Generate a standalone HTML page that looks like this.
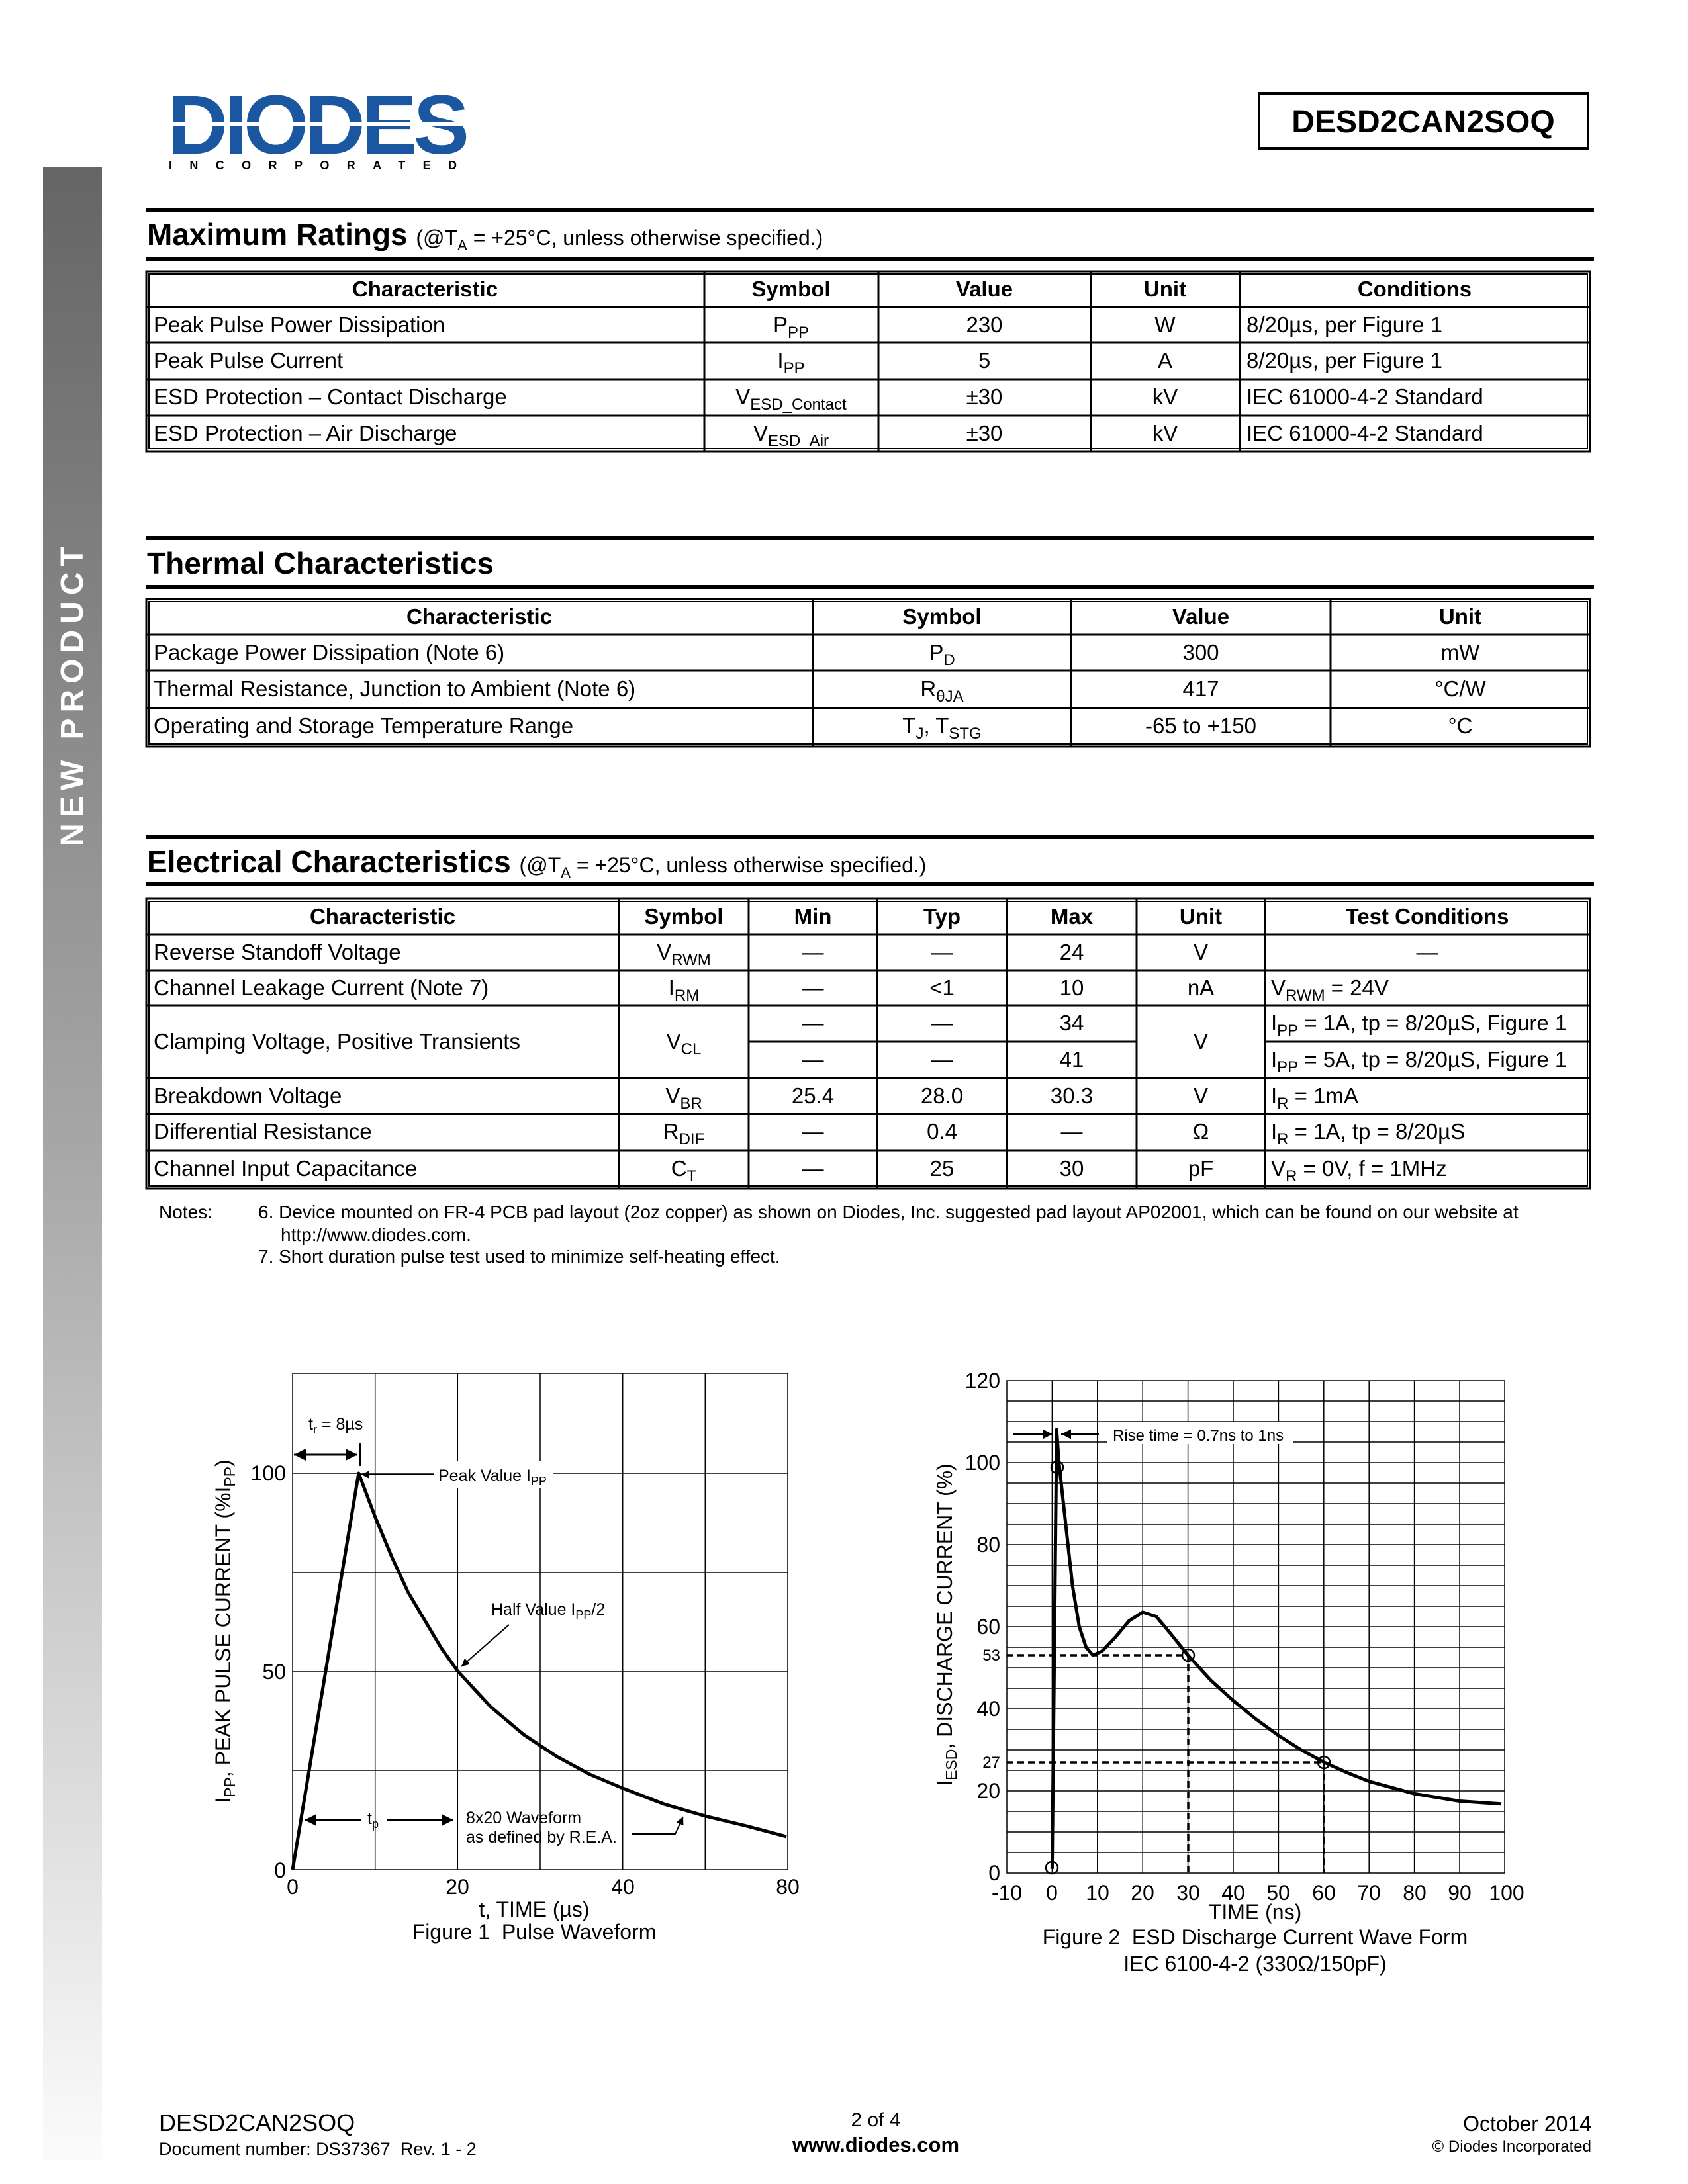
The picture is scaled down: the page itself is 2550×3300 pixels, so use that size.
<!DOCTYPE html>
<html><head><meta charset="utf-8"><style>
html,body{margin:0;padding:0;background:#fff}
svg{display:block}
text{font-family:"Liberation Sans",Arial,sans-serif;fill:#000}
</style></head><body>
<svg width="2550" height="3300" viewBox="0 0 2550 3300" xmlns="http://www.w3.org/2000/svg">
<defs>
<linearGradient id="sb" x1="0" y1="0" x2="0" y2="1">
<stop offset="0" stop-color="#656565"/><stop offset="0.5" stop-color="#a8a8a8"/><stop offset="1" stop-color="#fbfbfb"/>
</linearGradient>
<marker id="ah" viewBox="0 0 10 10" refX="10" refY="5" markerWidth="6" markerHeight="6" orient="auto-start-reverse"><path d="M0,0 L10,5 L0,10 z" fill="#000"/></marker>
</defs>
<!-- sidebar -->
<rect x="65" y="253" width="89" height="3010" fill="url(#sb)"/>
<text transform="translate(125,1048) rotate(-90)" text-anchor="middle" font-size="48" font-weight="bold" letter-spacing="9" style="fill:#fff">NEW PRODUCT</text>
<!-- logo -->
<text x="253" y="232" font-size="126" font-weight="bold" textLength="450" lengthAdjust="spacingAndGlyphs" style="fill:#1b57a0" letter-spacing="-6">DIODES</text>
<rect x="253" y="185" width="455" height="6" fill="#fff"/>
<text x="255" y="256" font-size="18" font-weight="bold" textLength="435" lengthAdjust="spacing">INCORPORATED</text>
<!-- part box -->
<rect x="1902" y="141" width="497" height="83" fill="none" stroke="#000" stroke-width="4"/>
<text x="2150" y="200" text-anchor="middle" font-size="48" font-weight="bold">DESD2CAN2SOQ</text>

<!-- Maximum Ratings -->
<rect x="221" y="315" width="2187" height="6" fill="#000"/>
<text x="222" y="370" font-size="46" font-weight="bold">Maximum Ratings <tspan font-size="32" font-weight="normal">(@T<tspan font-size="22" dy="8">A</tspan><tspan dy="-8"> = +25°C, unless otherwise specified.)</tspan></tspan></text>
<rect x="221" y="388" width="2187" height="6" fill="#000"/>
<g stroke="#000" fill="none">
<rect x="221" y="410" width="2181" height="272" stroke-width="3"/>
<rect x="225" y="414" width="2173" height="264" stroke-width="2"/>
<g stroke-width="3">
<line x1="221" y1="464" x2="2402" y2="464"/><line x1="221" y1="518" x2="2402" y2="518"/><line x1="221" y1="573" x2="2402" y2="573"/><line x1="221" y1="628" x2="2402" y2="628"/>
<line x1="1064" y1="410" x2="1064" y2="682"/><line x1="1327" y1="410" x2="1327" y2="682"/><line x1="1648" y1="410" x2="1648" y2="682"/><line x1="1873" y1="410" x2="1873" y2="682"/>
</g></g>
<g font-size="33">
<g font-weight="bold" text-anchor="middle"><text x="642" y="448">Characteristic</text><text x="1195" y="448">Symbol</text><text x="1487" y="448">Value</text><text x="1760" y="448">Unit</text><text x="2137" y="448">Conditions</text></g>
<text x="232" y="502">Peak Pulse Power Dissipation</text><text x="232" y="556">Peak Pulse Current</text><text x="232" y="611">ESD Protection – Contact Discharge</text><text x="232" y="666">ESD Protection – Air Discharge</text>
<g text-anchor="middle">
<text x="1195" y="502">P<tspan font-size="24" dy="8">PP</tspan></text><text x="1195" y="556">I<tspan font-size="24" dy="8">PP</tspan></text><text x="1195" y="611">V<tspan font-size="24" dy="8">ESD_Contact</tspan></text><text x="1195" y="666">V<tspan font-size="24" dy="8">ESD_Air</tspan></text>
<text x="1487" y="502">230</text><text x="1487" y="556">5</text><text x="1487" y="611">±30</text><text x="1487" y="666">±30</text>
<text x="1760" y="502">W</text><text x="1760" y="556">A</text><text x="1760" y="611">kV</text><text x="1760" y="666">kV</text>
</g>
<text x="1883" y="502">8/20µs, per Figure 1</text><text x="1883" y="556">8/20µs, per Figure 1</text><text x="1883" y="611">IEC 61000-4-2 Standard</text><text x="1883" y="666">IEC 61000-4-2 Standard</text>
</g>

<!-- Thermal -->
<rect x="221" y="810" width="2187" height="6" fill="#000"/>
<text x="222" y="867" font-size="46" font-weight="bold">Thermal Characteristics</text>
<rect x="221" y="884" width="2187" height="6" fill="#000"/>
<g stroke="#000" fill="none">
<rect x="221" y="905" width="2181" height="223" stroke-width="3"/>
<rect x="225" y="909" width="2173" height="215" stroke-width="2"/>
<g stroke-width="3">
<line x1="221" y1="959" x2="2402" y2="959"/><line x1="221" y1="1013" x2="2402" y2="1013"/><line x1="221" y1="1070" x2="2402" y2="1070"/>
<line x1="1228" y1="905" x2="1228" y2="1128"/><line x1="1618" y1="905" x2="1618" y2="1128"/><line x1="2010" y1="905" x2="2010" y2="1128"/>
</g></g>
<g font-size="33">
<g font-weight="bold" text-anchor="middle"><text x="724" y="943">Characteristic</text><text x="1423" y="943">Symbol</text><text x="1814" y="943">Value</text><text x="2206" y="943">Unit</text></g>
<text x="232" y="997">Package Power Dissipation (Note 6)</text><text x="232" y="1052">Thermal Resistance, Junction to Ambient (Note 6)</text><text x="232" y="1108">Operating and Storage Temperature Range</text>
<g text-anchor="middle">
<text x="1423" y="997">P<tspan font-size="24" dy="8">D</tspan></text><text x="1423" y="1052">R<tspan font-size="24" dy="8">θJA</tspan></text><text x="1423" y="1108">T<tspan font-size="24" dy="8">J</tspan><tspan dy="-8">, T</tspan><tspan font-size="24" dy="8">STG</tspan></text>
<text x="1814" y="997">300</text><text x="1814" y="1052">417</text><text x="1814" y="1108">-65 to +150</text>
<text x="2206" y="997">mW</text><text x="2206" y="1052">°C/W</text><text x="2206" y="1108">°C</text>
</g></g>

<!-- Electrical -->
<rect x="221" y="1261" width="2187" height="6" fill="#000"/>
<text x="222" y="1318" font-size="46" font-weight="bold">Electrical Characteristics <tspan font-size="32" font-weight="normal">(@T<tspan font-size="22" dy="8">A</tspan><tspan dy="-8"> = +25°C, unless otherwise specified.)</tspan></tspan></text>
<rect x="221" y="1333" width="2187" height="6" fill="#000"/>
<g stroke="#000" fill="none">
<rect x="221" y="1358" width="2181" height="438" stroke-width="3"/>
<rect x="225" y="1362" width="2173" height="430" stroke-width="2"/>
<g stroke-width="3">
<line x1="221" y1="1412" x2="2402" y2="1412"/><line x1="221" y1="1466" x2="2402" y2="1466"/><line x1="221" y1="1519" x2="2402" y2="1519"/>
<line x1="1131" y1="1574" x2="1717" y2="1574"/><line x1="1911" y1="1574" x2="2402" y2="1574"/>
<line x1="221" y1="1629" x2="2402" y2="1629"/><line x1="221" y1="1683" x2="2402" y2="1683"/><line x1="221" y1="1738" x2="2402" y2="1738"/>
<line x1="935" y1="1358" x2="935" y2="1796"/><line x1="1131" y1="1358" x2="1131" y2="1796"/><line x1="1325" y1="1358" x2="1325" y2="1796"/><line x1="1521" y1="1358" x2="1521" y2="1796"/><line x1="1717" y1="1358" x2="1717" y2="1796"/><line x1="1911" y1="1358" x2="1911" y2="1796"/>
</g></g>
<g font-size="33">
<g font-weight="bold" text-anchor="middle"><text x="578" y="1396">Characteristic</text><text x="1033" y="1396">Symbol</text><text x="1228" y="1396">Min</text><text x="1423" y="1396">Typ</text><text x="1619" y="1396">Max</text><text x="1814" y="1396">Unit</text><text x="2156" y="1396">Test Conditions</text></g>
<text x="232" y="1450">Reverse Standoff Voltage</text><text x="232" y="1504">Channel Leakage Current (Note 7)</text><text x="232" y="1585">Clamping Voltage, Positive Transients</text><text x="232" y="1667">Breakdown Voltage</text><text x="232" y="1721">Differential Resistance</text><text x="232" y="1777">Channel Input Capacitance</text>
<g text-anchor="middle">
<text x="1033" y="1450">V<tspan font-size="24" dy="8">RWM</tspan></text><text x="1033" y="1504">I<tspan font-size="24" dy="8">RM</tspan></text><text x="1033" y="1585">V<tspan font-size="24" dy="8">CL</tspan></text><text x="1033" y="1667">V<tspan font-size="24" dy="8">BR</tspan></text><text x="1033" y="1721">R<tspan font-size="24" dy="8">DIF</tspan></text><text x="1033" y="1777">C<tspan font-size="24" dy="8">T</tspan></text>
<text x="1228" y="1450">—</text><text x="1228" y="1504">—</text><text x="1228" y="1557">—</text><text x="1228" y="1612">—</text><text x="1228" y="1667">25.4</text><text x="1228" y="1721">—</text><text x="1228" y="1777">—</text>
<text x="1423" y="1450">—</text><text x="1423" y="1504">&lt;1</text><text x="1423" y="1557">—</text><text x="1423" y="1612">—</text><text x="1423" y="1667">28.0</text><text x="1423" y="1721">0.4</text><text x="1423" y="1777">25</text>
<text x="1619" y="1450">24</text><text x="1619" y="1504">10</text><text x="1619" y="1557">34</text><text x="1619" y="1612">41</text><text x="1619" y="1667">30.3</text><text x="1619" y="1721">—</text><text x="1619" y="1777">30</text>
<text x="1814" y="1450">V</text><text x="1814" y="1504">nA</text><text x="1814" y="1585">V</text><text x="1814" y="1667">V</text><text x="1814" y="1721">Ω</text><text x="1814" y="1777">pF</text>
<text x="2156" y="1450">—</text>
</g>
<text x="1920" y="1504">V<tspan font-size="24" dy="8">RWM</tspan><tspan dy="-8"> = 24V</tspan></text>
<text x="1920" y="1557">I<tspan font-size="24" dy="8">PP</tspan><tspan dy="-8"> = 1A, tp = 8/20µS, Figure 1</tspan></text>
<text x="1920" y="1612">I<tspan font-size="24" dy="8">PP</tspan><tspan dy="-8"> = 5A, tp = 8/20µS, Figure 1</tspan></text>
<text x="1920" y="1667">I<tspan font-size="24" dy="8">R</tspan><tspan dy="-8"> = 1mA</tspan></text>
<text x="1920" y="1721">I<tspan font-size="24" dy="8">R</tspan><tspan dy="-8"> = 1A, tp = 8/20µS</tspan></text>
<text x="1920" y="1777">V<tspan font-size="24" dy="8">R</tspan><tspan dy="-8"> = 0V, f = 1MHz</tspan></text>
</g>
<g font-size="28">
<text x="240" y="1841">Notes:</text>
<text x="390" y="1841">6. Device mounted on FR-4 PCB pad layout (2oz copper) as shown on Diodes, Inc. suggested pad layout AP02001, which can be found on our website at</text>
<text x="424" y="1875">http://www.diodes.com.</text>
<text x="390" y="1908">7. Short duration pulse test used to minimize self-heating effect.</text>
</g>

<!-- Figure 1 -->
<g stroke="#000" stroke-width="1.5" fill="none">
<rect x="442" y="2075" width="748" height="750"/>
<line x1="566.7" y1="2075" x2="566.7" y2="2825"/><line x1="691.3" y1="2075" x2="691.3" y2="2825"/><line x1="816" y1="2075" x2="816" y2="2825"/><line x1="940.7" y1="2075" x2="940.7" y2="2825"/><line x1="1065.3" y1="2075" x2="1065.3" y2="2825"/>
<line x1="442" y1="2226" x2="1190" y2="2226"/><line x1="442" y1="2376" x2="1190" y2="2376"/><line x1="442" y1="2526" x2="1190" y2="2526"/><line x1="442" y1="2675" x2="1190" y2="2675"/>
</g>
<polyline fill="none" stroke="#000" stroke-width="5" stroke-linejoin="round" points="442,2825 541.8,2226 566.7,2292 591.6,2352 616.6,2406 641.5,2448 666.5,2490 691.4,2525 741.3,2579 791.2,2621 841,2654 890.9,2681 940.8,2702 1003.2,2726 1065.5,2744 1127.9,2759 1188,2775"/>
<g stroke="#000" stroke-width="3" fill="none">
<line x1="444" y1="2198" x2="540" y2="2198" marker-start="url(#ah)" marker-end="url(#ah)"/>
<line x1="544" y1="2180" x2="544" y2="2215" stroke-width="2"/>
<line x1="660" y1="2228" x2="546" y2="2228" marker-end="url(#ah)" stroke-width="2"/>
<line x1="769" y1="2455" x2="697" y2="2518" marker-end="url(#ah)" stroke-width="2"/>
<line x1="545" y1="2750" x2="460" y2="2750" marker-end="url(#ah)"/>
<line x1="585" y1="2750" x2="685" y2="2750" marker-end="url(#ah)"/>
<polyline points="955,2771 1020,2771 1032,2745" stroke-width="2" marker-end="url(#ah)"/>
</g>
<g font-size="25">
<text x="466" y="2160">t<tspan font-size="18" dy="6">r</tspan><tspan dy="-6"> = 8µs</tspan></text>
<rect x="655" y="2208" width="180" height="40" fill="#fff"/>
<text x="662" y="2238">Peak Value I<tspan font-size="18" dy="6">PP</tspan></text>
<text x="742" y="2440">Half Value I<tspan font-size="18" dy="6">PP</tspan><tspan dy="-6">/2</tspan></text>
<text x="555" y="2756">t<tspan font-size="18" dy="6">p</tspan></text>
<text x="704" y="2755">8x20 Waveform</text><text x="704" y="2784">as defined by R.E.A.</text>
</g>
<g font-size="32">
<g text-anchor="end"><text x="432" y="2237">100</text><text x="432" y="2537">50</text><text x="432" y="2837">0</text></g>
<g text-anchor="middle"><text x="442" y="2862">0</text><text x="691" y="2862">20</text><text x="941" y="2862">40</text><text x="1190" y="2862">80</text>
<text x="807" y="2896">t, TIME (µs)</text><text x="807" y="2930">Figure 1&#160; Pulse Waveform</text></g>
<text transform="translate(348,2465) rotate(-90)" text-anchor="middle">I<tspan font-size="23" dy="7">PP</tspan><tspan dy="-7">, PEAK PULSE CURRENT (%I</tspan><tspan font-size="23" dy="7">PP</tspan><tspan dy="-7">)</tspan></text>
</g>

<!-- Figure 2 -->
<g stroke="#000" stroke-width="1.5" fill="none">
<path d="M1589.4 2086V2830M1657.8 2086V2830M1726.2 2086V2830M1794.6 2086V2830M1863 2086V2830M1931.4 2086V2830M1999.8 2086V2830M2068.2 2086V2830M2136.6 2086V2830M2205 2086V2830"/>
<path d="M1521 2799H2273M1521 2768H2273M1521 2737H2273M1521 2706H2273M1521 2675H2273M1521 2644H2273M1521 2613H2273M1521 2582H2273M1521 2551H2273M1521 2520H2273M1521 2489H2273M1521 2458H2273M1521 2427H2273M1521 2396H2273M1521 2365H2273M1521 2334H2273M1521 2303H2273M1521 2272H2273M1521 2241H2273M1521 2210H2273M1521 2179H2273M1521 2148H2273M1521 2117H2273"/>
<rect x="1521" y="2086" width="752" height="744"/>
</g>
<rect x="1672" y="2148" width="282" height="34" fill="#fff"/>
<g stroke="#000" stroke-width="3.5" stroke-dasharray="10,6" fill="none">
<path d="M1521 2501H1795V2830M1521 2663H2000V2830"/>
</g>
<polyline fill="none" stroke="#000" stroke-width="5" stroke-linejoin="round" points="1589.4,2823.8 1596.2,2160 1599.7,2210 1609.9,2303 1620.2,2396 1630.4,2458 1640.7,2489 1651,2501 1664.6,2495 1685.2,2473.5 1705.7,2449 1726.2,2436 1746.7,2442.5 1767.2,2467 1794.6,2501 1828.8,2538.6 1863,2569.6 1897.2,2597.5 1931.4,2622.3 1965.6,2644 1999.8,2662.6 2034,2678 2068.2,2691.7 2136.6,2710.3 2205,2721.5 2268,2725.8"/>
<g fill="none" stroke="#000" stroke-width="2.5">
<circle cx="1589" cy="2822" r="9"/><circle cx="1597" cy="2217" r="9"/><circle cx="1795" cy="2501" r="9"/><circle cx="2000" cy="2663" r="9"/>
<line x1="1530" y1="2167" x2="1590" y2="2167" marker-end="url(#ah)"/>
<line x1="1660" y1="2167" x2="1603" y2="2167" marker-end="url(#ah)"/>
</g>
<text x="1681" y="2177" font-size="24">Rise time = 0.7ns to 1ns</text>
<g font-size="32">
<g text-anchor="end"><text x="1511" y="2097">120</text><text x="1511" y="2221">100</text><text x="1511" y="2345">80</text><text x="1511" y="2469">60</text><text x="1511" y="2593">40</text><text x="1511" y="2717">20</text><text x="1511" y="2841">0</text>
<text x="1511" y="2509" font-size="24">53</text><text x="1511" y="2671" font-size="24">27</text></g>
<g text-anchor="middle"><text x="1521" y="2871">-10</text><text x="1589" y="2871">0</text><text x="1658" y="2871">10</text><text x="1726" y="2871">20</text><text x="1795" y="2871">30</text><text x="1863" y="2871">40</text><text x="1931" y="2871">50</text><text x="2000" y="2871">60</text><text x="2068" y="2871">70</text><text x="2137" y="2871">80</text><text x="2205" y="2871">90</text><text x="2276" y="2871">100</text>
<text x="1896" y="2900">TIME (ns)</text><text x="1896" y="2938">Figure 2&#160; ESD Discharge Current Wave Form</text><text x="1896" y="2978">IEC 6100-4-2 (330Ω/150pF)</text></g>
<text transform="translate(1438,2455) rotate(-90)" text-anchor="middle">I<tspan font-size="23" dy="7">ESD</tspan><tspan dy="-7">, DISCHARGE CURRENT (%)</tspan></text>
</g>

<!-- Footer -->
<text x="240" y="3220" font-size="36">DESD2CAN2SOQ</text>
<text x="240" y="3256" font-size="27">Document number: DS37367&#160; Rev. 1 - 2</text>
<text x="1323" y="3213" font-size="30" text-anchor="middle">2 of 4</text>
<text x="1323" y="3251" font-size="31" font-weight="bold" text-anchor="middle">www.diodes.com</text>
<text x="2404" y="3220" font-size="32" text-anchor="end">October 2014</text>
<text x="2404" y="3251" font-size="24" text-anchor="end">© Diodes Incorporated</text>
</svg>
</body></html>
